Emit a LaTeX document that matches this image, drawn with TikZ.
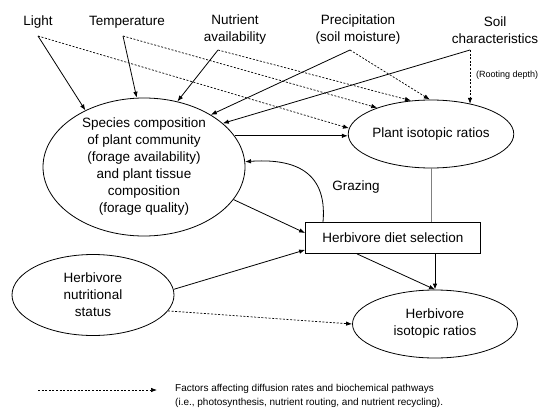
\documentclass[tikz,border=0pt]{standalone}
\usepackage{fontspec}
\setmainfont{Liberation Sans}
\usetikzlibrary{
    arrows.meta,
    positioning,
    calc,
    shapes.geometric
}
\tikzset{
    lab/.style={
        font=\fontsize{13.5}{17}\selectfont,
        align=center,
        inner sep=0pt
    },
    ell/.style={
        draw,
        ellipse,
        inner sep=0pt,
        line width=0.8pt,
        font=\fontsize{13.5}{17}\selectfont,
        align=center
    },
    box/.style={
        draw,
        rectangle,
        line width=0.8pt,
        minimum width=175pt,
        minimum height=31pt,
        font=\fontsize{13.5}{17}\selectfont
    },
    arr/.style={
        -{Latex[length=6pt,width=4.5pt]},
        line width=0.8pt
    },
    darr/.style={
        -{Latex[length=6pt,width=4.5pt]},
        line width=0.7pt,
        dash pattern=on 2pt off 1.6pt
    }
}

\begin{document}
\begin{tikzpicture}[x=1pt,y=-1pt,>=Latex]
\useasboundingbox (0,0) rectangle (548,409);
% driving factors
\node[lab] (light) at (38,22) {Light};
\node[lab] (temp) at (127,22) {Temperature};
\node[lab] (nutr) at (235,30) {Nutrient\\availability};
\node[lab] (precip) at (358,30) {Precipitation\\(soil moisture)};
\node[lab] (soil) at (495,30) {Soil\\characteristics};
\coordinate (light-o) at (38,36);
\coordinate (temp-o) at (123,36);
\coordinate (nutr-o) at (218,50);
\coordinate (precip-o) at (350,50);
\coordinate (soil-o) at (470,50);
\node[lab, anchor=west, font=\fontsize{9}{11}\selectfont] (root) at (476,75) {(Rooting depth)};
% main boxes
\node[ell, minimum width=202pt, minimum height=136pt] (species) at (144,167) {Species composition\\of plant community\\(forage availability)\\and plant tissue\\composition\\(forage quality)};
\node[ell, minimum width=143pt, minimum height=68pt] (plant) at (431,134) {Plant isotopic ratios};
\node[box] (diet) at (393,238) {Herbivore diet selection};
\node[ell, minimum width=162pt, minimum height=81pt] (nutrit) at (93,295) {Herbivore\\nutritional\\status};
\node[ell, minimum width=165pt, minimum height=68pt] (hiso) at (435,324) {Herbivore\\isotopic ratios};
% solid arrows to species composition
\draw[arr] (light-o) -- (species.136);
\draw[arr] (temp-o) -- (species.96);
\draw[arr] (nutr-o) -- (species.63);
\draw[arr] (precip-o) -- (species.38);
\draw[arr] (soil-o) -- (species.29);
% dotted arrows to plant isotopic ratios
\draw[darr] (light-o) -- (plant.176);
\draw[darr] (temp-o) -- (plant.154);
\draw[darr] (nutr-o) -- (plant.121);
\draw[darr] (precip-o) -- (plant.92);
\draw[darr] (soil-o) -- (soil-o |- plant.37);
% plant, diet and herbivore
\draw[arr] (species.19) -- (species.19 -| plant.west);
\draw[gray, line width=0.5pt] (plant.south) -- (plant.south |- diet.north);
\draw[arr] ([xshift=-70pt]diet.north) .. controls +(5,-55) and +(43,-3) .. (species.3);
\node[lab] (grazing) at (356,187) {Grazing};
\draw[arr] (species.-20) -- ([yshift=5pt]diet.west);
\draw[arr] (nutrit.4) -- ([yshift=4pt]diet.south west);
\draw[darr] (nutrit.-12) -- (hiso.west);
\draw[arr] ([xshift=-36pt]diet.south) -- (hiso.north);
\draw[arr] (diet.south -| hiso.north) -- (hiso.north);
% key
\coordinate (key-a) at (38,390);
\coordinate (key-b) at (157,390);
\draw[darr] (key-a) -- (key-b);
\node[lab, anchor=west, align=left, font=\fontsize{10}{14}\selectfont] (keytext) at (175,396) {Factors affecting diffusion rates and biochemical pathways\\ (i.e., photosynthesis, nutrient routing, and nutrient recycling).};
\end{tikzpicture}
\end{document}
